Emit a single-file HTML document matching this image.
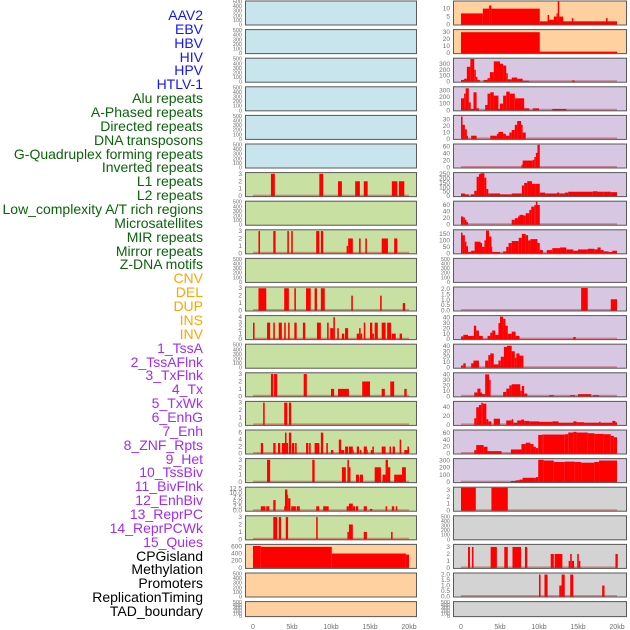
<!DOCTYPE html>
<html><head><meta charset="utf-8">
<style>
html,body{margin:0;padding:0;background:#fff;}
body{width:630px;height:630px;overflow:hidden;position:relative;font-family:"Liberation Sans",sans-serif;}
.lab{position:absolute;right:427px;font-size:14px;line-height:14px;white-space:nowrap;}
svg{position:absolute;left:0;top:0;}
</style></head><body>
<div id="labels"></div>
<svg id="chart" width="630" height="630"></svg>
<script>
const trackNames = ["AAV2","EBV","HBV","HIV","HPV","HTLV-1","Alu repeats","A-Phased repeats","Directed repeats","DNA transposons","G-Quadruplex forming repeats","Inverted repeats","L1 repeats","L2 repeats","Low_complexity A/T rich regions","Microsatellites","MIR repeats","Mirror repeats","Z-DNA motifs","CNV","DEL","DUP","INS","INV","1_TssA","2_TssAFlnk","3_TxFlnk","4_Tx","5_TxWk","6_EnhG","7_Enh","8_ZNF_Rpts","9_Het","10_TssBiv","11_BivFlnk","12_EnhBiv","13_ReprPC","14_ReprPCWk","15_Quies","CPGisland","Methylation","Promoters","ReplicationTiming","TAD_boundary"];
const trackGroups = ["v","v","v","v","v","v","r","r","r","r","r","r","r","r","r","r","r","r","r","s","s","s","s","s","c","c","c","c","c","c","c","c","c","c","c","c","c","c","c","o","o","o","o","o"];
const xTicks = [0,5,10,15,20];
const xTickLabels = ["0","5kb","10kb","15kb","20kb"];
const midColors = ["b","b","b","b","b","b","g","g","g","g","g","g","g","g","g","g","g","g","g","o","o","o"];
const rightColors = ["o","o","p","p","p","p","p","p","p","p","p","p","p","p","p","p","p","k","k","k","k","k"];
const midYmax = [500,500,500,500,500,500,3.1,500,3.1,500,3.1,4.2,500,3.1,3.1,6.6,3.1,13,3.1,640,500,500];
const midTicks = [[0,100,200,300,400,500],[0,100,200,300,400,500],[0,100,200,300,400,500],[0,100,200,300,400,500],[0,100,200,300,400,500],[0,100,200,300,400,500],[0,1,2,3],[0,100,200,300,400,500],[0,1,2,3],[0,100,200,300,400,500],[0,1,2,3],[0,1,2,3,4],[0,100,200,300,400,500],[0,1,2,3],[0,1,2,3],[0,2,4,6],[0,1,2,3],[0,2.5,5,7.5,10,12.5],[0,1,2,3],[0,200,400,600],[0,100,200,300,400,500],[0,100,200,300,400,500]];
const midSegs = [[],[],[],[],[],[],
[[2.3,2.8,3],[8.5,9.0,3],[10.9,11.4,2],[13.1,13.7,2],[14.2,14.7,2],[17.8,18.5,2],[18.7,19.4,2]],
[],
[[0.7,0.9,3],[2.6,2.9,3],[4.4,4.6,3],[4.9,5.1,3],[8.1,8.5,3],[8.7,9.0,3],[12.0,12.2,1],[12.2,12.8,2],[13.6,13.8,2],[14.4,14.6,2],[16.5,17.3,2],[18.1,18.5,2]],
[],
[[0.7,1.7,3],[4.0,4.6,3],[5.3,5.5,3],[6.8,7.4,3],[7.9,8.2,3],[8.7,9.2,3],[12.6,12.8,2],[16.3,16.5,2],[19.2,19.5,1]],
[[0,0.2,3],[1.8,2.2,3],[2.6,2.8,3],[3.3,3.7,3],[4.0,4.2,3],[4.5,4.7,3],[5.3,5.6,3],[6.4,6.7,3],[8.2,8.7,3],[9.5,9.7,3],[9.9,10.3,2],[10.3,10.5,4],[10.8,11.0,2],[11.4,11.7,1],[11.8,12.2,2],[13.3,13.6,1],[13.6,13.8,2],[13.8,14.0,1],[14.2,14.4,3],[15.0,15.3,3],[15.3,15.5,1],[15.6,16.0,3],[16.5,17.0,3],[17.2,17.7,3],[17.8,18.3,1],[18.8,19.1,1]],
[],
[[2.3,2.6,3],[2.7,3.1,3],[6.5,6.9,3],[10.0,10.4,1],[10.9,12.3,1],[14.0,15.0,2],[16.5,16.9,1],[17.6,18.1,2],[19.4,19.7,1]],
[[1.3,1.5,3],[4.0,4.4,3],[4.6,4.9,3]],
[[1.0,1.3,3],[2.6,2.9,3],[3.2,3.5,3],[3.7,4.1,3],[4.1,4.3,6],[4.3,4.5,3],[4.6,4.9,6],[5.0,5.3,3],[5.4,5.6,3],[6.8,7.1,3],[7.2,7.4,3],[7.9,8.5,3],[8.7,9.0,6],[9.4,9.6,3],[10.0,10.3,1],[11.0,11.3,4],[11.3,11.7,1],[11.8,12.2,2],[12.3,12.8,2],[12.8,12.9,1],[13.3,13.6,2],[13.7,13.9,1],[14.2,14.6,2],[14.6,14.7,1],[15.1,15.3,1],[15.3,15.5,2],[16.5,17.0,2],[17.5,17.7,2],[17.9,18.2,2],[18.8,19.0,4],[19.4,19.8,1],[19.8,20.0,2]],
[[1.8,2.2,3],[7.6,7.9,3],[11.4,11.9,2],[12.1,12.3,3],[12.3,12.5,2],[13.2,13.6,1],[13.7,14.1,1],[15.6,16.4,2],[16.6,17.0,1],[17.0,17.3,3],[17.3,17.6,2],[18.1,19.1,1],[19.1,19.6,2]],
[[1.0,1.6,2.5],[1.7,2.1,2.5],[2.6,2.9,6],[4.0,4.1,2.5],[4.1,4.4,12],[4.4,4.5,9],[4.5,4.8,7],[4.9,5.5,2.5],[5.6,6.0,2.5],[8.1,8.5,2.5],[9.0,9.7,2.5],[12.0,12.3,2.5],[12.3,12.8,4],[12.8,13.1,2.5],[13.2,13.5,2.5],[14.2,14.6,2.5],[15.0,15.3,1],[17.0,17.2,2.5],[17.8,18.1,2.5],[18.3,18.5,2.5]],
[[2.6,3.1,3],[3.3,3.6,3],[4.2,4.5,3],[8.1,8.3,3],[12.1,12.3,1],[12.3,12.8,2],[14.2,14.6,1],[17.7,17.9,1]],
[[0,1.0,610],[1.0,10.1,585],[10.1,19.6,400],[19.6,20,370]],
[],[]];
const rightYmax = [14.5,33,385,345,36,66,262,70,178,500,2.15,43,42,42,52,68,320,3.3,500,3.3,2.1,500];
const rightTicks = [[0,5,10],[0,10,20,30],[0,100,200,300],[0,100,200,300],[0,10,20,30],[0,20,40,60],[0,50,100,150,200,250],[0,20,40,60],[0,50,100,150],[0,100,200,300,400,500],[0,0.5,1,1.5,2],[0,10,20,30,40],[0,10,20,30,40],[0,10,20,30,40],[0,20,40],[0,20,40,60],[0,100,200,300],[0,1,2,3],[0,100,200,300,400,500],[0,1,2,3],[0,0.5,1,1.5,2],[0,100,200,300,400,500]];
const rightTickDec = [0,0,0,0,0,0,0,0,0,0,1,0,0,0,0,0,0,0,0,0,1,0];
const rightSegs = [
[[0,2.8,7],[2.8,3.6,10],[3.6,3.9,12],[3.9,10.1,10],[10.1,20,2],[11.1,11.3,6],[11.3,11.9,3],[11.9,12.25,5],[12.25,12.4,7],[12.4,12.6,16],[12.6,13.1,5],[14.2,14.4,4],[18.6,18.8,4]],
[[0,10.1,30],[10.1,20,2]],
[[0,0.4,30],[0.4,0.75,50],[0.75,1.2,250],[1.2,1.7,380],[1.7,1.9,200],[1.9,2.1,80],[2.1,2.4,30],[2.9,3.4,30],[3.4,3.7,60],[3.7,4.2,160],[4.2,5.0,340],[5.0,5.4,300],[5.4,5.8,270],[5.8,6.0,140],[6.0,6.5,40],[6.5,7.2,70],[7.2,7.9,50],[7.9,8.75,15],[14.2,14.6,20]],
[[0,0.4,180],[0.4,0.6,250],[0.6,1.0,330],[1.0,1.25,120],[1.25,1.6,20],[1.6,2.0,270],[2.0,2.3,30],[3.1,3.4,80],[3.4,3.75,250],[3.75,4.2,270],[4.2,4.8,220],[4.8,5.0,20],[5.0,5.4,100],[5.4,5.8,220],[5.8,6.25,280],[6.25,6.9,250],[6.9,8.1,180],[8.1,8.75,30],[9.2,10.0,30],[11.7,13.5,20]],
[[0,0.2,35],[0.2,0.5,22],[0.5,0.75,15],[0.75,0.9,5],[1.3,2.0,5],[3.75,4.6,5],[4.6,4.8,8],[4.8,5.4,11],[5.4,5.75,8],[5.75,6.2,5],[6.2,6.5,10],[6.5,6.9,14],[6.9,7.2,22],[7.2,7.7,28],[7.7,7.9,22],[7.9,8.3,10]],
[[7.75,7.9,8],[7.9,9.2,20],[9.2,9.4,22],[9.4,9.6,30],[9.6,9.8,42],[9.8,10.1,65]],
[[0,0.5,30],[0.5,1.0,20],[1.25,1.7,20],[1.7,2.0,60],[2.0,2.3,220],[2.3,2.5,250],[2.5,3.0,260],[3.0,3.25,210],[3.25,3.5,80],[3.5,3.8,30],[3.8,5.0,30],[5.0,6.5,20],[6.5,7.8,30],[7.8,8.1,120],[8.1,8.5,150],[8.5,9.1,170],[9.1,9.6,140],[9.6,10.1,140],[10.1,10.8,40],[10.8,12.3,30],[12.3,12.6,40],[12.6,13.3,30],[13.3,13.75,40],[13.75,16.9,50],[16.9,17.5,55],[17.5,18.3,50],[18.3,19.2,50],[19.2,20,45]],
[[0,0.3,25],[0.3,0.5,22],[0.5,0.7,15],[0.7,0.9,8],[6.5,6.9,15],[6.9,7.3,20],[7.3,7.5,25],[7.5,8.0,30],[8.0,8.3,28],[8.3,8.75,35],[8.75,9.0,45],[9.0,9.4,55],[9.4,9.6,60],[9.6,9.8,70],[9.8,10.1,60]],
[[0,0.2,160],[0.2,0.5,140],[0.5,0.7,90],[0.7,0.9,55],[0.9,1.3,10],[1.3,1.75,20],[1.75,2.5,90],[2.5,2.7,80],[2.7,3.0,50],[3.0,3.2,100],[3.2,3.6,175],[3.6,3.9,130],[3.9,4.0,50],[4.0,5.0,10],[5.4,5.8,15],[5.8,6.1,50],[6.1,6.5,80],[6.5,7.4,95],[7.4,7.8,120],[7.8,8.3,150],[8.3,8.6,140],[8.6,8.9,100],[8.9,9.8,110],[9.8,10.1,80],[10.1,10.5,25],[11.0,11.7,25],[11.7,12.7,40],[12.7,13.5,45],[13.5,14.4,30],[14.4,15.0,20],[15.0,16.25,30],[16.25,17.1,35],[17.1,17.5,30],[17.5,17.9,45],[17.9,18.3,25],[18.3,18.9,15],[18.9,19.4,10],[19.4,20,20]],
[],
[[15.4,16.25,2.1],[19.2,20,1.05]],
[[0,0.3,5],[0.3,0.9,8],[0.9,1.65,6],[1.65,1.95,25],[1.95,2.3,16],[2.3,2.8,6],[3.4,3.75,6],[3.75,4.0,12],[4.0,4.4,16],[4.4,4.8,8],[4.8,5.0,30],[5.0,5.4,42],[5.4,5.7,38],[5.7,6.0,25],[6.0,6.5,10],[6.5,7.0,14],[7.0,7.5,6],[14.4,14.7,4]],
[[0,0.3,4],[0.3,0.6,8],[1.3,1.6,8],[1.6,2.3,13],[3.1,3.5,13],[3.5,3.75,23],[3.75,4.2,26],[4.2,4.8,6],[4.8,5.1,13],[5.1,5.5,20],[5.5,5.9,38],[5.9,6.5,40],[6.5,6.9,30],[6.9,7.1,18],[7.1,7.5,26],[7.5,8.0,22]],
[[1.7,2.1,7],[2.1,2.5,14],[2.5,2.7,7],[2.7,3.1,4],[3.1,3.6,40],[3.6,3.8,30],[5.4,5.8,8],[5.8,6.2,14],[6.2,6.5,20],[6.5,7.6,22],[7.6,7.8,10],[7.8,8.1,19],[8.1,8.5,5],[11.3,11.9,2],[14.0,14.6,2],[15.0,16.7,4],[16.9,17.7,2]],
[[1.7,1.95,15],[1.95,2.3,40],[2.3,2.6,45],[2.6,2.8,50],[2.8,3.25,48],[3.25,3.5,13],[3.5,3.9,8],[4.2,5.0,14],[5.8,6.5,10],[6.5,6.7,13],[6.7,7.2,5],[7.2,7.7,10],[7.7,8.1,12],[8.1,8.75,9],[8.75,10.0,8],[10.0,11.7,7],[11.7,12.5,8],[12.5,14.4,5],[14.4,14.8,8],[14.8,15.8,6],[15.8,17.7,5],[17.7,17.9,7],[17.9,19.4,5],[19.4,19.8,9],[19.8,20,6]],
[[1.7,1.95,10],[1.95,2.9,25],[2.9,3.4,20],[3.4,5.2,7],[6.4,7.0,12],[7.0,7.75,12],[7.75,8.3,28],[8.3,8.9,32],[8.9,9.3,28],[9.3,9.6,20],[9.6,9.9,16],[9.9,10.4,55],[10.4,10.6,56],[10.6,13.3,56],[13.3,13.75,57],[13.75,14.4,62],[14.4,14.8,64],[14.8,16.25,62],[16.25,17.1,60],[17.1,18.3,58],[18.3,19.2,57],[19.2,19.6,52],[19.6,20,48]],
[[6.4,7.0,15],[7.0,7.5,25],[7.5,7.9,35],[7.9,9.6,60],[9.6,9.9,70],[9.9,10.6,310],[10.6,11.9,300],[11.9,13.3,280],[13.3,14.6,285],[14.6,15.4,280],[15.4,17.1,270],[17.1,17.7,280],[17.7,20,300]],
[[0,1.9,3.3],[3.9,6.0,3.3]],
[],
[[0.9,1.15,3],[1.4,1.6,3],[3.8,4.6,3],[5.55,6.0,3],[6.6,7.7,3],[8.2,8.5,3],[11.5,11.9,2],[12.0,13.0,2],[13.8,14.0,1],[14.0,14.2,2],[14.2,14.5,1],[14.9,15.1,2],[15.1,15.3,1],[19.8,20.1,2]],
[[10.0,10.2,2],[10.7,11.1,2],[12.6,12.9,1],[12.9,13.3,2],[14.0,14.4,2],[18.1,18.4,1]],
[]];

const NS = "http://www.w3.org/2000/svg";
const svg = document.getElementById('chart');
const fills = {b:"#c8e4ec",g:"#c8e1a3",o:"#ffd1a1",p:"#d8c7e3",k:"#d3d3d3"};
const groupColors = {v:"#1414ff",r:"#0a640a",s:"#ffa500",c:"#a22cf0",o:"#000000"};
const labelsDiv = document.getElementById('labels');
trackNames.forEach((n,i)=>{
  const d=document.createElement('div');
  
  
  d.className='lab';
  d.style.top=(8+i*13.86)+'px';
  d.style.color=groupColors[trackGroups[i]];
  d.textContent=n;
  labelsDiv.appendChild(d);
});
function mk(tag,attrs,parent){const e=document.createElementNS(NS,tag);for(const k in attrs)e.setAttribute(k,attrs[k]);(parent||svg).appendChild(e);return e;}
function panelTop(i){return i*28.6+0.5;}
function panelH(i){return i===21?16:25;}
function drawColumn(x0,x1,kx0,kx1,colors,ymaxArr,ticksArr,segsArr,decArr,colName){
  const xs=k=>kx0+(kx1-kx0)*k/20;
  colors.forEach((c,i)=>{
    const top=panelTop(i),h=panelH(i),bot=top+h;
    const g=mk('g',{});
    
    
    const bg=mk('rect',{x:x0,y:top,width:x1-x0,height:h,fill:fills[c]},g);
    
    
    const ymax=ymaxArr[i];
    const ys=v=>bot-1-(h-2)*v/ymax;
    const segs=segsArr[i];
    if(segs.length){
      const base=mk('line',{x1:xs(0),x2:xs(20),y1:bot-1.5,y2:bot-1.5,stroke:"rgba(200,40,40,0.45)","stroke-width":2},g);
      
      
    }
    segs.forEach(s=>{
      const yt=Math.max(top,ys(s[2]));
      const r=mk('rect',{x:xs(s[0]),y:yt,width:Math.max(0.8,xs(s[1])-xs(s[0])),height:bot-1-yt,fill:"#ff0000"},g);
      
      
    });
    const br=mk('rect',{x:x0+0.5,y:top+0.5,width:x1-x0-1,height:h-1,fill:"none",stroke:"#5a5a5a","stroke-width":1},g);
    
    
    ticksArr[i].forEach(t=>{
      const tx=mk('text',{x:x0-3,y:ys(t)+2,"text-anchor":"end","font-size":ymax===500?5.5:6.5,fill:"#707070","font-family":"Liberation Sans, sans-serif"},g);
      
      
      tx.textContent=(decArr&&decArr[i])?t.toFixed(1):(ymax===13?(t%1?t.toFixed(1):t.toFixed(1)):String(t));
    });
  });
  xTicks.forEach((t,j)=>{
    const tx=mk('text',{x:xs(t),y:629,"text-anchor":"middle","font-size":7,fill:"#707070","font-family":"Liberation Sans, sans-serif"});
    
    
    tx.textContent=xTickLabels[j];
  });
}
drawColumn(245,417,253,409,midColors,midYmax,midTicks,midSegs,null,'middle');
drawColumn(453,627,461,617,rightColors,rightYmax,rightTicks,rightSegs,rightTickDec,'right');
</script>
</body></html>
